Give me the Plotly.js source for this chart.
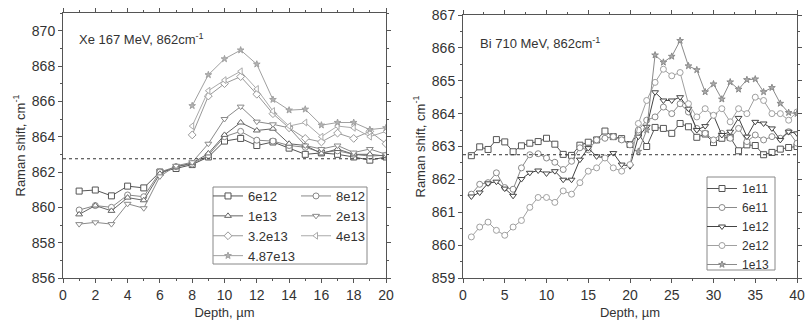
<!DOCTYPE html>
<html>
<head>
<meta charset="utf-8">
<script src="https://cdn.plot.ly/plotly-3.0.1.min.js"></script>
<style>html,body{margin:0;padding:0;background:#fff;}#chart{width:808px;height:326px;}</style>
</head>
<body>
<div id="chart"></div>
<script>
// ---------- data: left panel (Xe 167 MeV) ----------
const depthL = [1,2,3,4,5,6,7,8,9,10,11,12,13,14,15,16,17,18,19,20];
const depthL8 = [8,9,10,11,12,13,14,15,16,17,18,19,20];
const xe_6e12 = [860.92,860.98,860.65,861.2,861.1,862.0,862.2,862.42,862.85,863.75,863.9,863.5,863.7,863.35,863.0,863.08,863.0,862.85,862.67,862.85];
const xe_8e12 = [859.85,860.1,860.0,860.7,860.6,862.0,862.3,862.45,862.95,864.0,864.3,863.8,863.75,863.5,863.4,863.1,863.2,863.0,862.9,862.95];
const xe_1e13 = [859.6,860.1,859.8,860.55,860.4,861.9,862.3,862.5,863.05,864.1,864.8,864.35,864.45,863.6,863.5,863.05,863.3,863.0,863.0,862.9];
const xe_2e13 = [859.05,859.15,859.05,860.2,859.95,861.75,862.35,862.55,863.6,865.0,865.7,864.85,864.7,864.5,863.5,863.3,863.5,863.1,863.3,863.0];
const xe_32e13 = [864.1,866.3,867.0,867.4,866.4,865.3,864.5,863.9,863.7,864.2,863.9,864.3,863.6];
const xe_4e13 = [864.6,866.6,867.2,867.7,866.7,865.45,864.6,864.8,864.0,864.6,864.5,864.0,864.3];
const xe_487e13 = [865.75,867.5,868.4,868.9,868.1,866.1,865.5,865.55,864.65,864.8,864.8,864.4,864.5];
const namesL = ['6e12','8e12','1e13','2e13','3.2e13','4e13','4.87e13'];

// ---------- data: right panel (Bi 710 MeV) ----------
const depthR = [1,2,3,4,5,6,7,8,9,10,11,12,13,14,15,16,17,18,19,20,21,22,23,24,25,26,27,28,29,30,31,32,33,34,35,36,37,38,39,40];
const depthR21 = [21,22,23,24,25,26,27,28,29,30,31,32,33,34,35,36,37,38,39,40];
const bi_1e11 = [862.72,862.99,862.91,863.21,863.14,862.84,863.02,863.1,863.15,863.25,863.07,862.76,862.73,863.04,863.13,863.2,863.47,863.3,863.24,863.06,863.4,863.0,863.58,863.55,863.4,863.7,863.6,863.28,863.38,863.12,863.25,863.28,862.87,863.05,863.03,862.75,862.82,862.92,862.97,863.0];
const bi_6e11 = [861.55,861.85,861.9,862.2,861.75,861.7,862.35,862.75,862.78,862.65,862.52,862.3,862.55,862.96,862.9,863.2,863.25,863.3,863.2,863.05,863.5,863.8,863.9,864.2,864.0,864.3,864.05,863.55,863.4,863.2,863.4,863.25,863.55,863.15,863.35,863.2,863.3,863.25,863.45,863.1];
const bi_1e12 = [861.48,861.6,861.88,861.93,861.72,861.5,862.01,862.2,862.27,862.18,862.25,861.99,861.99,862.6,862.95,862.7,862.65,862.8,862.45,862.4,863.3,863.6,864.65,864.4,864.4,864.5,864.15,863.5,863.62,863.95,863.35,863.45,863.87,863.3,863.75,863.7,863.55,863.2,863.45,863.4];
const bi_2e12 = [860.25,860.55,860.7,860.45,860.3,860.55,860.75,861.15,861.45,861.45,861.3,861.65,861.55,861.9,862.25,862.35,862.65,862.35,862.25,862.45,863.7,864.4,864.95,865.35,865.15,865.25,864.3,863.9,864.15,863.95,864.15,863.75,864.15,864.0,864.5,864.4,864.0,864.0,863.8,864.05];
const bi_1e13 = [862.85,863.5,865.78,865.56,865.74,866.22,865.45,865.33,864.66,864.9,864.44,864.96,864.74,865.03,865.05,864.66,864.79,864.31,864.03,864.0];
const namesR = ['1e11','6e11','1e12','2e12','1e13'];

const refShift = 862.75;

// ---------- styling ----------
const W = 808, H = 326, MT = 13, MB = 48, PH = H - MT - MB;
const px = v => v / W;
const py = v => (H - MB - v) / PH;
const FONT = 'Liberation Sans, Arial, sans-serif';
const TXT = '#333';

function tr(x, y, name, sym, col, fill, xa, ya, leg, size) {
  return {
    x: x, y: y, name: name, type: 'scatter', mode: 'lines+markers',
    xaxis: xa, yaxis: ya, legend: leg,
    line: {color: col, width: 1},
    marker: {symbol: sym, size: size || 6, color: fill, line: {color: col, width: 1}}
  };
}

const data = [
  tr(depthL, xe_6e12, namesL[0], 'square', '#555', '#fff', 'x', 'y', 'legend'),
  tr(depthL, xe_8e12, namesL[1], 'circle', '#888', '#fff', 'x', 'y', 'legend2'),
  tr(depthL, xe_1e13, namesL[2], 'triangle-up', '#666', '#fff', 'x', 'y', 'legend'),
  tr(depthL, xe_2e13, namesL[3], 'triangle-down', '#8a8a8a', '#fff', 'x', 'y', 'legend2'),
  tr(depthL8, xe_32e13, namesL[4], 'diamond', '#999', '#fff', 'x', 'y', 'legend'),
  tr(depthL8, xe_4e13, namesL[5], 'triangle-left', '#aaa', '#fff', 'x', 'y', 'legend2'),
  tr(depthL8, xe_487e13, namesL[6], 'star', '#a0a0a0', '#b4b4b4', 'x', 'y', 'legend', 5),

  tr(depthR, bi_1e11, namesR[0], 'square', '#555', '#fff', 'x2', 'y2', 'legend3'),
  tr(depthR, bi_6e11, namesR[1], 'circle', '#8a8a8a', '#fff', 'x2', 'y2', 'legend3'),
  tr(depthR, bi_1e12, namesR[2], 'triangle-down', '#444', '#fff', 'x2', 'y2', 'legend3'),
  tr(depthR, bi_2e12, namesR[3], 'circle', '#a0a0a0', '#fff', 'x2', 'y2', 'legend3'),
  tr(depthR21, bi_1e13, namesR[4], 'star', '#8a8a8a', '#acacac', 'x2', 'y2', 'legend3', 5)
];

function axisX(domain, range, dtick, minor, anchor) {
  return {
    domain: domain, range: range, anchor: anchor, dtick: dtick, tick0: 0,
    showgrid: false, zeroline: false, showline: true, linecolor: '#555', linewidth: 1,
    mirror: 'allticks', ticks: 'outside', ticklen: 4, tickcolor: '#555',
    minor: {dtick: minor, ticks: 'outside', ticklen: 2, tickcolor: '#555'},
    tickfont: {family: FONT, size: 14, color: TXT},
    title: {text: 'Depth, \u00b5m', font: {family: FONT, size: 13, color: TXT}, standoff: 6}
  };
}
function axisY(domain, range, dtick, minor, anchor) {
  return {
    domain: domain, range: range, anchor: anchor, dtick: dtick,
    showgrid: false, zeroline: false, showline: true, linecolor: '#555', linewidth: 1,
    mirror: 'allticks', ticks: 'outside', ticklen: 4, tickcolor: '#555',
    minor: {dtick: minor, ticks: 'outside', ticklen: 2, tickcolor: '#555'},
    tickfont: {family: FONT, size: 14, color: TXT},
    title: {text: 'Raman shift, cm<sup>-1</sup>', font: {family: FONT, size: 13, color: TXT}, standoff: 3}
  };
}

const legBase = {
  bgcolor: 'rgba(0,0,0,0)', borderwidth: 0, xanchor: 'left', yanchor: 'top',
  font: {family: FONT, size: 13, color: TXT}, itemwidth: 30, tracegroupgap: 0
};

const layout = {
  width: W, height: H,
  margin: {l: 0, r: 0, t: MT, b: MB},
  paper_bgcolor: '#fff', plot_bgcolor: '#fff',
  font: {family: FONT, color: TXT},
  xaxis: axisX([px(63), px(386)], [0, 20], 2, 1, 'y'),
  yaxis: axisY([0, 1], [856, 871], 2, 1, 'x'),
  xaxis2: axisX([px(463), px(797)], [0, 40], 5, 2.5, 'y2'),
  yaxis2: axisY([0, py(15)], [859, 867], 1, 0.5, 'x2'),
  legend: Object.assign({}, legBase, {x: px(208), y: py(181)}),
  legend2: Object.assign({}, legBase, {x: px(296), y: py(181)}),
  legend3: Object.assign({}, legBase, {x: px(702), y: py(174), font: {family: FONT, size: 12, color: TXT}}),
  shapes: [
    {type: 'line', xref: 'x domain', x0: 0, x1: 1, yref: 'y', y0: refShift, y1: refShift,
     line: {color: '#333', width: 1, dash: '3px,3px'}},
    {type: 'line', xref: 'x2 domain', x0: 0, x1: 1, yref: 'y2', y0: refShift, y1: refShift,
     line: {color: '#333', width: 1, dash: '3px,3px'}},
    {type: 'rect', xref: 'paper', yref: 'paper', x0: px(213), x1: px(367), y0: py(264), y1: py(187),
     line: {color: '#888', width: 1}},
    {type: 'rect', xref: 'paper', yref: 'paper', x0: px(707), x1: px(775), y0: py(270), y1: py(177),
     line: {color: '#888', width: 1}}
  ],
  annotations: [
    {text: 'Xe 167 MeV, 862cm<sup>-1</sup>', xref: 'paper', yref: 'paper', x: px(77), y: py(39),
     xanchor: 'left', yanchor: 'middle', showarrow: false, font: {family: FONT, size: 13, color: TXT}},
    {text: 'Bi 710 MeV, 862cm<sup>-1</sup>', xref: 'paper', yref: 'paper', x: px(478), y: py(43),
     xanchor: 'left', yanchor: 'middle', showarrow: false, font: {family: FONT, size: 13, color: TXT}}
  ]
};

Plotly.newPlot('chart', data, layout, {displayModeBar: false, staticPlot: true});
</script>
</body>
</html>
